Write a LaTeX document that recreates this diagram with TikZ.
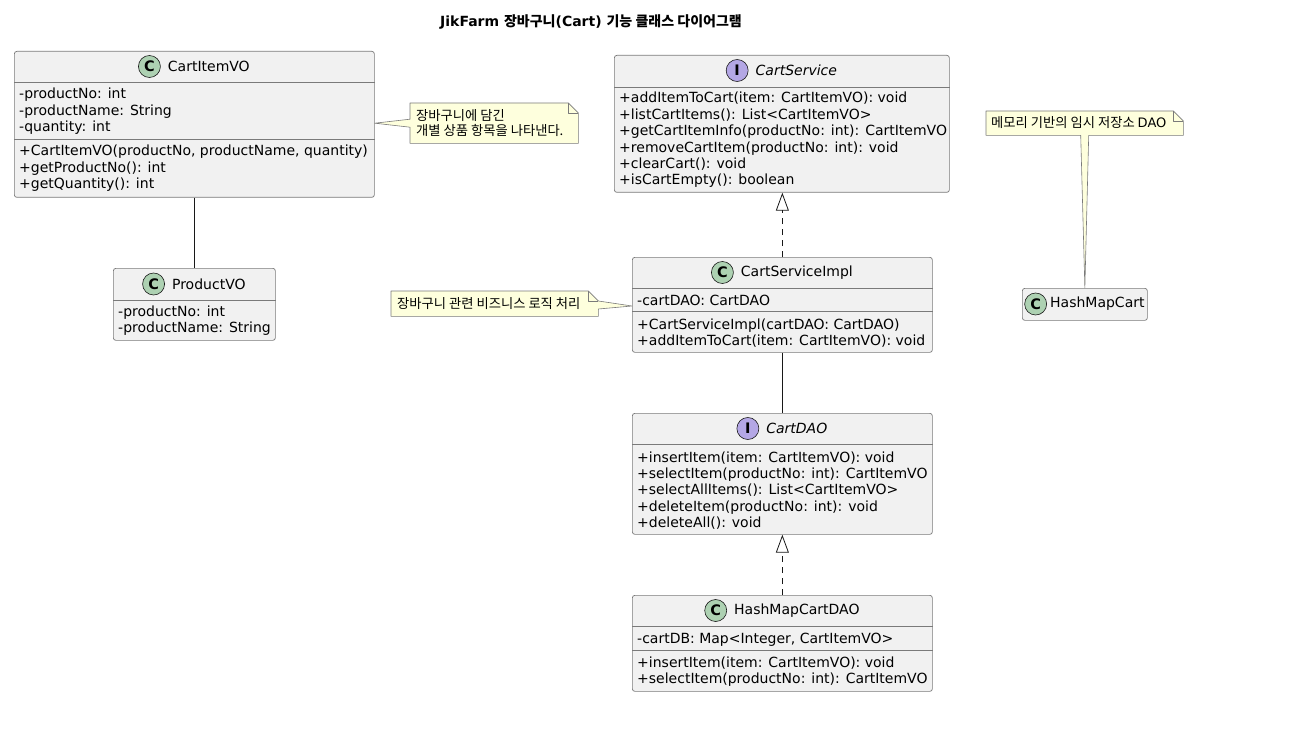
\documentclass[tikz,border=0pt]{standalone}
\usepackage{fontspec}
\setmainfont{DejaVu Sans}
\newfontfamily\kr{Noto Sans CJK KR}
\usetikzlibrary{arrows.meta,calc,positioning}
\definecolor{boxfill}{HTML}{F1F1F1}
\definecolor{boxline}{HTML}{181818}
\definecolor{sepgray}{HTML}{7A7A7A}
\definecolor{notefill}{HTML}{FEFFDD}
\definecolor{classmark}{HTML}{ADD1B2}
\definecolor{ifacemark}{HTML}{B4A7E5}

\begin{document}
\begin{tikzpicture}[
    x=1pt, y=-1pt,
    classbox/.style={draw=sepgray, fill=boxfill, line width=0.7pt, rounded corners=2.5pt, anchor=north west, inner sep=0pt},
    sepline/.style={draw=sepgray, line width=0.6pt},
    cname/.style={inner sep=0pt, font=\fontsize{14}{16}\selectfont},
    cmark/.style={circle, draw=boxline, line width=0.6pt, minimum size=22pt, inner sep=0pt, font=\bfseries\fontsize{14.5}{16}\selectfont},
    member/.style={anchor=base west, inner sep=0pt, font=\fontsize{14}{16}\selectfont},
    notebox/.style={anchor=north west, inner sep=0pt},
    noteline/.style={draw=sepgray, fill=notefill, line width=0.6pt, line join=round},
    notetext/.style={anchor=west, inner sep=0pt, align=left, font=\kr\fontsize{13.3}{15}\selectfont},
    assoc/.style={draw=boxline, line width=0.8pt},
    realize/.style={draw=boxline, line width=0.8pt, dash pattern=on 6pt off 5pt, -{Triangle[open, length=18pt, width=13pt]}}
]
\useasboundingbox (0,0) rectangle (1298,730);

% title
\node[font=\bfseries\fontsize{14}{16}\selectfont] (title) at (591,22) {JikFarm {\kr 장바구니}(Cart) {\kr 기능 클래스 다이어그램}};

% boxes
\node[classbox, minimum width=360, minimum height=146] (itemvo) at (14,51) {};
\node[classbox, minimum width=162, minimum height=72] (prodvo) at (113,268) {};
\node[classbox, minimum width=335, minimum height=137] (csvc) at (614,55) {};
\node[classbox, minimum width=300, minimum height=95] (impl) at (632,257) {};
\node[classbox, minimum width=300, minimum height=121] (dao) at (632,413) {};
\node[classbox, minimum width=300, minimum height=96] (hmdao) at (632,595) {};
\node[classbox, minimum width=125, minimum height=32] (hmcart) at (1022,288) {};

% headers
\node[cname] (itemvo-n) at ($(itemvo.north)+(14.5,15.5)$) {CartItemVO};
\node[cmark, fill=classmark, left=7pt of itemvo-n] (itemvo-c) {C};
\node[cname] (prodvo-n) at ($(prodvo.north)+(14.5,16)$) {ProductVO};
\node[cmark, fill=classmark, left=7pt of prodvo-n] (prodvo-c) {C};
\node[cname, font=\itshape\fontsize{14}{16}\selectfont] (csvc-n) at ($(csvc.north)+(14.5,15.5)$) {CartService};
\node[cmark, fill=ifacemark, left=7pt of csvc-n] (csvc-c) {I};
\node[cname] (impl-n) at ($(impl.north)+(14.5,15.5)$) {CartServiceImpl};
\node[cmark, fill=classmark, left=7pt of impl-n] (impl-c) {C};
\node[cname, font=\itshape\fontsize{14}{16}\selectfont] (dao-n) at ($(dao.north)+(14.5,15.5)$) {CartDAO};
\node[cmark, fill=ifacemark, left=7pt of dao-n] (dao-c) {I};
\node[cname] (hmdao-n) at ($(hmdao.north)+(14.5,15.5)$) {HashMapCartDAO};
\node[cmark, fill=classmark, left=7pt of hmdao-n] (hmdao-c) {C};
\node[cname] (hmcart-n) at ($(hmcart.north)+(12.5,16)$) {HashMapCart};
\node[cmark, fill=classmark, left=3pt of hmcart-n] (hmcart-c) {C};

% separators
\draw[sepline] (itemvo.west |- 0,82) -- (itemvo.east |- 0,82);
\draw[sepline] (itemvo.west |- 0,139) -- (itemvo.east |- 0,139);
\draw[sepline] (prodvo.west |- 0,300) -- (prodvo.east |- 0,300);
\draw[sepline] (csvc.west |- 0,87) -- (csvc.east |- 0,87);
\draw[sepline] (impl.west |- 0,288) -- (impl.east |- 0,288);
\draw[sepline] (impl.west |- 0,311) -- (impl.east |- 0,311);
\draw[sepline] (dao.west |- 0,444) -- (dao.east |- 0,444);
\draw[sepline] (hmdao.west |- 0,626) -- (hmdao.east |- 0,626);
\draw[sepline] (hmdao.west |- 0,650) -- (hmdao.east |- 0,650);

% members
\foreach \m [count=\i from 0] in {-productNo: int, -productName: String, -quantity: int}
    \node[member] (itemvo-f\i) at (19,{99+16.4*\i}) {\m};
\foreach \m [count=\i from 0] in {{+CartItemVO(productNo, productName, quantity)}, +getProductNo(): int, +getQuantity(): int}
    \node[member] (itemvo-m\i) at (19,{156+16.4*\i}) {\m};
\foreach \m [count=\i from 0] in {-productNo: int, -productName: String}
    \node[member] (prodvo-f\i) at (118,{316+16.4*\i}) {\m};
\foreach \m [count=\i from 0] in {+addItemToCart(item: CartItemVO): void, +listCartItems(): List<CartItemVO>,
        +getCartItemInfo(productNo: int): CartItemVO, +removeCartItem(productNo: int): void,
        +clearCart(): void, +isCartEmpty(): boolean}
    \node[member] (csvc-m\i) at (619,{103+16.4*\i}) {\m};
\node[member] (impl-f0) at (637,305) {-cartDAO: CartDAO};
\foreach \m [count=\i from 0] in {+CartServiceImpl(cartDAO: CartDAO), +addItemToCart(item: CartItemVO): void}
    \node[member] (impl-m\i) at (637,{329+16.4*\i}) {\m};
\foreach \m [count=\i from 0] in {+insertItem(item: CartItemVO): void, +selectItem(productNo: int): CartItemVO,
        +selectAllItems(): List<CartItemVO>, +deleteItem(productNo: int): void, +deleteAll(): void}
    \node[member] (dao-m\i) at (637,{462+16.4*\i}) {\m};
\node[member] (hmdao-f0) at (637,643) {-cartDB: Map<Integer, CartItemVO>};
\foreach \m [count=\i from 0] in {+insertItem(item: CartItemVO): void, +selectItem(productNo: int): CartItemVO}
    \node[member] (hmdao-m\i) at (637,{667+16.4*\i}) {\m};

% relations
\draw[assoc] (itemvo.south) -- (prodvo.north);
\draw[assoc] (impl.south) -- (impl.south |- dao.north);
\draw[realize] (impl.north) -- (impl.north |- csvc.south);
\draw[realize] (hmdao.north) -- (hmdao.north |- dao.south);

% notes
\node[notebox, minimum width=168, minimum height=40] (note1) at (410,103) {};
\draw[noteline] (note1.north west) -- ($(note1.north east)+(-10,0)$) -- ($(note1.north east)+(0,10)$)
    -- (note1.south east) -- (note1.south west) -- ($(note1.west)+(0,4)$)
    -- (itemvo.east |- note1.west) -- ($(note1.west)+(0,-4)$) -- cycle;
\draw[noteline, fill=none] ($(note1.north east)+(-10,0)$) -- ($(note1.north east)+(-10,10)$) -- ($(note1.north east)+(0,10)$);
\node[notetext] (note1-t) at (416,123) {장바구니에 담긴\\개별 상품 항목을 나타낸다.};

\node[notebox, minimum width=207, minimum height=25] (note2) at (391,291) {};
\coordinate (note2-tip) at (impl.west |- 0,306);
\draw[noteline] (note2.north west) -- ($(note2.north east)+(-10,0)$) -- ($(note2.north east)+(0,10)$)
    -- (note2-tip) -- ($(note2.north east)+(0,18)$)
    -- (note2.south east) -- (note2.south west) -- cycle;
\draw[noteline, fill=none] ($(note2.north east)+(-10,0)$) -- ($(note2.north east)+(-10,10)$) -- ($(note2.north east)+(0,10)$);
\node[notetext] (note2-t) at (397,303.5) {장바구니 관련 비즈니스 로직 처리};

\node[notebox, minimum width=197, minimum height=24] (note3) at (986,111) {};
\draw[noteline] (note3.north west) -- ($(note3.north east)+(-10,0)$) -- ($(note3.north east)+(0,10)$)
    -- (note3.south east) -- ($(note3.south)+(4,0)$) -- (hmcart.north)
    -- ($(note3.south)+(-4,0)$) -- (note3.south west) -- cycle;
\draw[noteline, fill=none] ($(note3.north east)+(-10,0)$) -- ($(note3.north east)+(-10,10)$) -- ($(note3.north east)+(0,10)$);
\node[notetext] (note3-t) at (991,123) {메모리 기반의 임시 저장소 {\rmfamily\fontsize{13}{15}\selectfont DAO}};
\end{tikzpicture}
\end{document}
